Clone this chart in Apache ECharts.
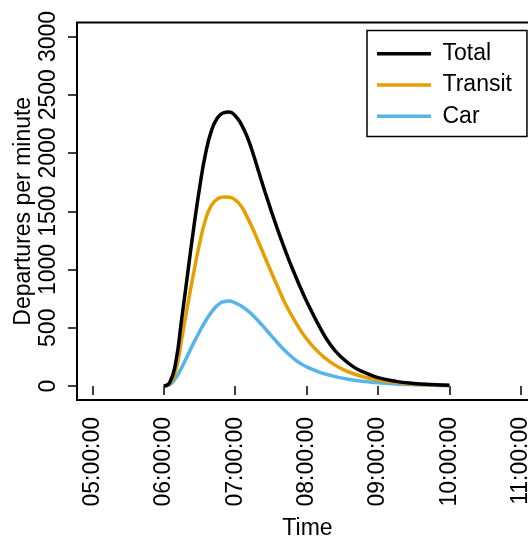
<!DOCTYPE html>
<html>
<head>
<meta charset="utf-8">
<script src="https://cdn.jsdelivr.net/npm/echarts@6/dist/echarts.min.js"></script>
<style>
html,body{margin:0;padding:0;background:#fff;}
#chart{width:528px;height:537px;}
</style>
</head>
<body>
<div id="chart"></div>
<script>
// Time of day (clock) for each sample
const times = ["06:00","06:05","06:10","06:15","06:20","06:25","06:30","06:35","06:40","06:45",
  "06:50","06:55","07:00","07:05","07:10","07:15","07:20","07:25","07:30","07:35",
  "07:40","07:45","07:50","07:55","08:00","08:10","08:20","08:30","08:40","08:50",
  "09:00","09:15","09:30","09:45","10:00"];
// Departures per minute
const totalValues = [0,30,200,570,960,1345,1695,1990,2190,2300,
  2345,2352,2320,2248,2140,1995,1830,1668,1512,1362,
  1220,1085,960,840,728,525,355,240,160,110,
  72,40,22,12,6];
const transitValues = [0,20,130,400,690,965,1220,1425,1550,1605,
  1622,1620,1598,1545,1452,1345,1225,1105,985,868,
  752,650,560,477,405,290,205,145,103,73,
  52,31,18,10,5];
const carValues = [0,12,68,158,262,368,466,556,634,692,
  723,729,713,687,651,605,552,495,436,378,
  322,272,229,193,164,122,92,68,50,38,
  28,18,11,6,3];
// Axis tick labels
const xTickHours = [5,6,7,8,9,10,11];
const yTickValues = [0,500,1000,1500,2000,2500,3000];
const seriesNames = ["Total","Transit","Car"];
const seriesColors = ["#000000","#E69F00","#56B4E9"];

function toHours(t){ const p=t.split(":"); return +p[0] + (+p[1])/60; }
function pairs(vals){ return times.map((t,i)=>[toHours(t), vals[i]]); }
function fmtHour(h){ const hh = String(Math.round(h)).padStart(2,"0"); return hh + ":00:00"; }

const FONT = "Liberation Sans, Arial, Helvetica, sans-serif";
const FS = 23;
const chart = echarts.init(document.getElementById('chart'), null, {renderer:'canvas'});
const lineW = 3.5;
const allVals = [totalValues, transitValues, carValues];

chart.setOption({
  animation:false,
  backgroundColor:'#ffffff',
  textStyle:{fontFamily:FONT},
  grid:{
    left:77, top:22.5, right:-10, bottom:137,
    show:true, borderColor:'#000', borderWidth:2, backgroundColor:'transparent',
    containLabel:false, outerBoundsMode:'none'
  },
  legend:{
    orient:'vertical', left:367, top:30.5,
    backgroundColor:'#fff', borderColor:'#000', borderWidth:1.5, borderRadius:0,
    padding:[7.5,15,4.5,10],
    icon:'rect',
    itemWidth:54, itemHeight:3.5, itemGap:0,
    textStyle:{fontFamily:FONT, fontSize:FS, color:'#000', lineHeight:31.3, padding:[0,0,0,6.5]},
    data:seriesNames
  },
  xAxis:{
    type:'value', min:4.785, max:11.24,
    name:'Time', nameLocation:'middle', nameGap:117, nameMoveOverlap:false,
    nameTextStyle:{fontFamily:FONT, fontSize:FS, color:'#000'},
    axisLine:{show:false},
    splitLine:{show:false},
    axisTick:{show:true, inside:false, length:9, lineStyle:{color:'#000', width:1.5}, customValues:xTickHours},
    axisLabel:{show:true, rotate:90, margin:17, fontFamily:FONT, fontSize:FS, color:'#000',
      customValues:xTickHours, formatter:fmtHour, hideOverlap:false}
  },
  yAxis:{
    type:'value', min:-120, max:3120,
    name:'Departures per minute', nameLocation:'middle', nameGap:42, nameMoveOverlap:false,
    nameTextStyle:{fontFamily:FONT, fontSize:FS, color:'#000'},
    axisLine:{show:false},
    splitLine:{show:false},
    axisTick:{show:true, inside:false, length:9, lineStyle:{color:'#000', width:1.5}, customValues:yTickValues},
    axisLabel:{show:true, rotate:90, margin:17, fontFamily:FONT, fontSize:FS, color:'#000',
      customValues:yTickValues, formatter:(v)=>String(v), hideOverlap:false}
  },
  series: seriesNames.map((n,i)=>({
    name:n, type:'line', data:pairs(allVals[i]), symbol:'none', smooth:0.5,
    lineStyle:{color:seriesColors[i], width:lineW}, itemStyle:{color:seriesColors[i]},
    z: 3 - i
  }))
});
</script>
</body>
</html>
